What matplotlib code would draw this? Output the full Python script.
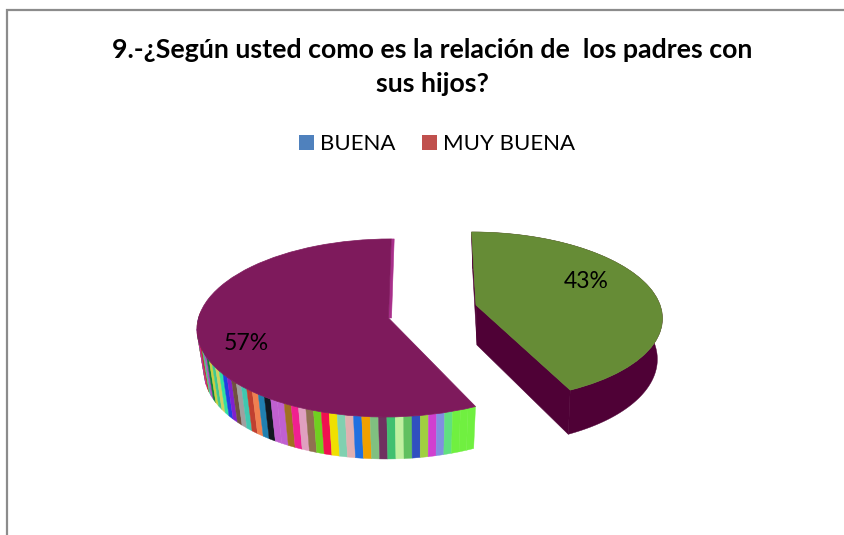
import numpy as np
import matplotlib
matplotlib.use("Agg")
import matplotlib.pyplot as plt
from matplotlib.patches import Patch
from matplotlib.transforms import Transform

title = "9.-¿Según usted como es la relación de  los padres con\nsus hijos?"
legend_labels = ["BUENA", "MUY BUENA"]
legend_colors = ["#4f81bd", "#c0504d"]
pct_values = [43, 57]
top_colors = ["#668c36", "#7e1a5c"]
green_side = ["#4f0136"]
purple_wall = "#a82f8a"
purple_side = [
    "#c03020", "#1f1f1f", "#4a4a90", "#a8d820", "#7a2a70", "#8a2a90", "#e03020",
    "#70d8b0", "#a03080", "#e020a0", "#b04020", "#50c890", "#b050c0", "#108040",
    "#c8d040", "#40c890", "#d0d060", "#30e0a0", "#2040e0", "#8020d0", "#705040",
    "#a0a0a0", "#40c8b0", "#c04030", "#f08050", "#2080b0", "#101820", "#c060d0",
    "#c060d0", "#a07020", "#f02090", "#e0a0c0", "#907050", "#70d020", "#f01050",
    "#f0e000", "#80d0b0", "#e0b0b0", "#2070e0", "#f0a000", "#80c080", "#703060",
    "#40c070", "#c0f0a0", "#60c060", "#3050c0", "#a0d040", "#d040d0", "#8090e0",
    "#60e080", "#70f040", "#70f040", "#70f040",
]

plt.rcParams["font.family"] = ["Lato", "DejaVu Sans"]


class Persp(Transform):
    """Pie plane (unit circle) to the tilted view, in pixel-like data units."""
    input_dims = output_dims = 2

    def __init__(self, cx, cy, a, b, d, k):
        super().__init__()
        self.p = (cx, cy, a, b, d, k)

    def transform_non_affine(self, xy):
        xy = np.asarray(xy, float)
        cx, cy, a, b, d, k = self.p
        u, v = xy[:, 0], xy[:, 1]
        w = 1 + k * v
        return np.column_stack([cx + (a * u + b * v) / w, cy - d * v / w])


def rim(t, theta1, theta2, n=2):
    th = np.radians(np.linspace(theta1, theta2, n))
    return t.transform(np.column_stack([np.cos(th), np.sin(th)]))


def centre(t):
    return t.transform(np.array([[0.0, 0.0]]))


def side(ax, top, bot, theta1, theta2, colors):
    edges = np.linspace(theta1, theta2, len(colors) + 1)
    n = max(2, int(abs(theta2 - theta1) / len(colors)) + 2)
    for c, e1, e2 in zip(colors, edges[:-1], edges[1:]):
        a = rim(top, e1, e2, n)
        b = rim(bot, e1, e2, n)
        poly = np.vstack([a, b[::-1]])
        ax.fill(poly[:, 0], poly[:, 1], facecolor=c, edgecolor=c, lw=0.3, zorder=2)


def wall(ax, top, bot, theta, color):
    poly = np.vstack([centre(top), rim(top, theta, theta, 1), rim(bot, theta, theta, 1), centre(bot)])
    ax.fill(poly[:, 0], poly[:, 1], facecolor=color, edgecolor=color, lw=0.4, zorder=2)


fig = plt.figure(figsize=(8.44, 5.35), dpi=100, facecolor="white")
ax = fig.add_axes([0, 0, 1, 1])

wedges, _, autotexts = ax.pie(
    pct_values, colors=top_colors, startangle=90, counterclock=False,
    autopct="%.0f%%", radius=1, normalize=True,
)
ax.set_aspect("auto")
ax.set_xlim(0, 844)
ax.set_ylim(535, 0)
ax.axis("off")

# slice geometry: first (43 %) to the right, second (57 %) to the left
top_t = [Persp(476, 305, 184, -5, 82.7, 0.133), Persp(388.5, 318, 190, 3, 87.9, 0.112)]
bot_t = [Persp(477, 345, 178, -5, 86.8, 0.133), Persp(389.5, 360, 184, 3, 87.9, 0.112)]

for i, (wedge, top, bot) in enumerate(zip(wedges, top_t, bot_t)):
    th1, th2 = wedge.theta1, wedge.theta2
    if i == 0:
        wall(ax, top, bot, th1, green_side[0])
        wall(ax, top, bot, th2, green_side[0])
        side(ax, top, bot, th1, th2, green_side)
    else:
        wall(ax, top, Persp(391.5, 318, 190, 3, 87.9, 0.112), th1, purple_wall)
        side(ax, top, bot, th1 + 86.0, th2, purple_side)
    wedge.set_transform(top + ax.transData)
    wedge.set_zorder(3)
    wedge.set_edgecolor(top_colors[i])
    wedge.set_linewidth(0.5)

label_xy = [(586, 282), (246, 344)]
for txt, xy in zip(autotexts, label_xy):
    txt.set_position(xy)
    txt.set_transform(ax.transData)
    txt.set_fontsize(16.6)
    txt.set_color("black")
    txt.set_ha("center")
    txt.set_va("center")
    txt.set_zorder(5)

ax.text(432, 67, title, ha="center", va="center", fontsize=19.3, fontweight="bold",
        color="black", linespacing=1.45, zorder=5)

handles = [Patch(facecolor=c, edgecolor="none", label=l) for c, l in zip(legend_colors, legend_labels)]
ax.legend(handles=handles, loc="center", bbox_to_anchor=(437 / 844, 1 - 144 / 535), ncol=2,
          frameon=False, fontsize=16, handlelength=0.68, handleheight=0.68, handletextpad=0.27,
          columnspacing=1.17, borderpad=0, borderaxespad=0)

ax.plot([7, 7, 844], [535, 9.5, 9.5], color="#8c8c8c", lw=1.6, zorder=6, clip_on=False, solid_joinstyle="miter")

fig.savefig("out.png", dpi=100)
